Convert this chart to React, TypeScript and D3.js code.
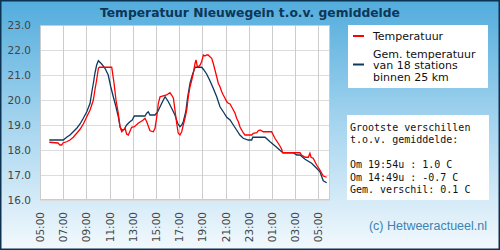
import * as React from "react";
import * as d3 from "d3";

// Temperatuur (rood) — tijden van 05:48 tot 05:43 de volgende ochtend
const tempTimes = [
  "05:48", "06:33", "06:43", "06:52", "07:00", "07:18", "07:35", "07:52", "08:10", "08:27",
  "08:44", "09:02", "09:19", "09:36", "09:44", "09:53", "10:02", "10:07", "11:11", "11:23",
  "11:33", "11:45", "11:54", "12:03", "12:20", "12:28", "12:37", "12:54", "13:08", "13:28",
  "13:54", "14:03", "14:12", "14:20", "14:29", "14:46", "14:55", "15:04", "15:12", "15:21",
  "15:55", "16:12", "16:21", "16:30", "16:38", "16:47", "16:55", "17:04", "17:13", "17:21",
  "17:30", "17:39", "17:47", "17:56", "18:05", "18:13", "18:22", "18:27", "18:34", "18:39",
  "18:48", "18:56", "19:05", "19:13", "19:22", "19:30", "19:39", "19:48", "19:56", "20:05",
  "20:14", "20:22", "20:31", "20:40", "20:48", "20:57", "21:06", "21:14", "21:23", "21:31",
  "21:40", "21:49", "21:57", "22:06", "22:14", "22:23", "22:31", "22:40", "23:15", "23:23",
  "23:41", "23:49", "23:58", "00:15", "00:58", "01:15", "01:32", "01:41", "01:50", "01:55",
  "03:25", "03:33", "03:51", "04:08", "04:16", "04:22", "04:33", "04:51", "05:08", "05:25",
  "05:43",
];
const tempValues = [
  18.31, 18.28, 18.2, 18.2, 18.29, 18.33, 18.4, 18.51, 18.67, 18.83,
  19.04, 19.33, 19.6, 20.0, 20.4, 20.8, 21.27, 21.31, 21.31, 20.67,
  20.0, 19.47, 18.93, 18.73, 18.87, 18.64, 18.6, 18.91, 18.93, 19.07,
  19.2, 19.27, 19.13, 18.96, 18.77, 18.73, 18.87, 19.33, 19.87, 20.13,
  20.2, 20.29, 20.2, 20.07, 19.6, 19.07, 18.67, 18.6, 18.73, 19.0,
  19.27, 19.6, 20.13, 20.53, 20.8, 21.07, 21.47, 21.6, 21.33, 21.33,
  21.4, 21.53, 21.8, 21.76, 21.8, 21.8, 21.73, 21.67, 21.47, 21.2,
  20.93, 20.67, 20.53, 20.33, 20.2, 20.07, 19.93, 19.87, 19.84, 19.73,
  19.6, 19.47, 19.27, 19.13, 18.93, 18.8, 18.69, 18.6, 18.6, 18.67,
  18.69, 18.77, 18.8, 18.73, 18.73, 18.47, 18.27, 18.16, 18.03, 17.89,
  17.89, 17.8, 17.71, 17.71, 17.87, 17.71, 17.67, 17.4, 17.2, 16.96,
  16.91,
];

// Gemiddelde van 18 stations (donkerblauw)
const avgTimes = [
  "05:48", "07:00", "07:18", "07:35", "07:52", "08:10", "08:27", "08:44", "09:02", "09:19",
  "09:27", "09:36", "09:44", "09:53", "10:02", "10:19", "10:36", "10:53", "11:06", "11:19",
  "11:33", "11:45", "11:54", "12:03", "12:16", "12:28", "12:45", "12:57", "13:08", "14:03",
  "14:12", "14:20", "14:29", "14:55", "15:09", "15:21", "15:38", "15:47", "16:04", "16:21",
  "16:38", "16:52", "17:04", "17:13", "17:21", "17:34", "17:44", "17:56", "18:08", "18:22",
  "18:56", "19:05", "19:22", "19:39", "19:56", "20:14", "20:31", "20:48", "21:06", "21:23",
  "21:40", "21:57", "22:14", "22:31", "22:57", "23:15", "23:20", "00:24", "00:50", "01:24",
  "01:50", "01:58", "02:50", "03:08", "03:25", "03:51", "04:25", "04:51", "05:08", "05:25",
  "05:43",
];
const avgValues = [
  18.4, 18.4, 18.51, 18.6, 18.73, 18.87, 19.04, 19.27, 19.53, 19.87,
  20.27, 20.67, 21.07, 21.4, 21.57, 21.44, 21.27, 21.0, 20.53, 20.13,
  19.73, 19.33, 18.93, 18.8, 18.83, 19.0, 19.13, 19.2, 19.36, 19.36,
  19.47, 19.53, 19.4, 19.4, 19.53, 19.73, 20.0, 20.13, 19.93, 19.67,
  19.4, 19.07, 18.93, 19.0, 19.13, 19.53, 20.13, 20.67, 21.0, 21.31,
  21.31, 21.23, 21.04, 20.77, 20.47, 20.13, 19.73, 19.53, 19.31, 19.2,
  19.0, 18.8, 18.6, 18.47, 18.4, 18.4, 18.51, 18.51, 18.33, 18.11,
  17.93, 17.89, 17.89, 17.8, 17.8, 17.63, 17.47, 17.27, 17.13, 16.77,
  16.69,
];

const yTicks = [16, 17, 18, 19, 20, 21, 22, 23];
const xTickLabels = [
  "05:00", "07:00", "09:00", "11:00", "13:00", "15:00", "17:00",
  "19:00", "21:00", "23:00", "01:00", "03:00", "05:00",
];

const legendItems = [
  { color: "#ff0000", lines: ["Temperatuur"] },
  { color: "#0b3a5e", lines: ["Gem. temperatuur", "van 18 stations", "binnen 25 km"] },
];
const infoLines = [
  "Grootste verschillen",
  "t.o.v. gemiddelde:",
  "",
  "Om 19:54u : 1.0 C",
  "Om 14:49u : -0.7 C",
  "Gem. verschil: 0.1 C",
];

const W = 500;
const H = 250;
const margin = { top: 25, right: 170, bottom: 50, left: 40 };

// tijden "HH:MM" omzetten naar uren sinds 05:00, met dagovergang
function toHours(times: string[]) {
  let prev = -1;
  let offset = 0;
  return times.map((t) => {
    const [h, m] = t.split(":").map(Number);
    let v = h + m / 60;
    if (v + offset < prev) offset += 24;
    v += offset;
    prev = v;
    return v - 5;
  });
}

const App: React.FC = () => {
  const x = d3.scaleLinear().domain([0, 25]).range([margin.left, W - margin.right]);
  const y = d3.scaleLinear().domain([16, 23]).range([H - margin.bottom, margin.top]);

  const tempH = toHours(tempTimes);
  const avgH = toHours(avgTimes);

  const line = d3
    .line<[number, number]>()
    .x((d) => x(d[0]))
    .y((d) => y(d[1]));

  const tempPath = line(tempH.map((h, i) => [h, tempValues[i]] as [number, number])) || undefined;
  const avgPath = line(avgH.map((h, i) => [h, avgValues[i]] as [number, number])) || undefined;

  const xTicks = xTickLabels.map((label, i) => ({ label, h: i * 2 }));
  const plotRight = W - margin.right;
  const plotBottom = H - margin.bottom;

  return (
    <svg width={W} height={H} style={{ position: "absolute", left: 0, top: 0 }}>
      <defs>
        <linearGradient id="bg" x1="0" y1="0" x2="0" y2="1">
          <stop offset="0%" stopColor="#52acdc" />
          <stop offset="50%" stopColor="#a6d5ef" />
          <stop offset="100%" stopColor="#f3f9fd" />
        </linearGradient>
      </defs>
      <rect x={0} y={0} width={W} height={H} fill="url(#bg)" />
      <rect x={0.75} y={0.75} width={W - 1.5} height={H - 1.5} fill="none" stroke="#0c3252" strokeWidth={1.5} />

      <text
        x={250}
        y={16.5}
        textAnchor="middle"
        fontFamily="DejaVu Sans, sans-serif"
        fontWeight="bold"
        fontSize={12.3}
        fill="#0d3658"
      >
        Temperatuur Nieuwegein t.o.v. gemiddelde
      </text>

      {/* plotgebied */}
      <rect x={margin.left} y={margin.top} width={plotRight - margin.left} height={plotBottom - margin.top} fill="#ffffff" />
      <g stroke="#dcdcdc" strokeWidth={1}>
        {yTicks.map((t) => (
          <line key={t} x1={margin.left} x2={plotRight} y1={y(t) + 0.5} y2={y(t) + 0.5} />
        ))}
      </g>
      <g stroke="#cccccc" strokeWidth={1}>
        {xTicks.map((t) => (
          <line key={t.h} x1={Math.round(x(t.h)) + 0.5} x2={Math.round(x(t.h)) + 0.5} y1={margin.top} y2={plotBottom} />
        ))}
      </g>
      <rect
        x={margin.left + 0.5}
        y={margin.top + 0.5}
        width={plotRight - margin.left - 1}
        height={plotBottom - margin.top - 1}
        fill="none"
        stroke="#cccccc"
      />

      <g fontFamily="DejaVu Sans, sans-serif" fontSize={10.5} fill="#444">
        {yTicks.map((t) => (
          <text key={t} x={31} y={y(t) + 4} textAnchor="end">
            {t.toFixed(1)}
          </text>
        ))}
        {xTicks.map((t, i) => (
          <text
            key={i}
            transform={`translate(${x(t.h) + 4},${plotBottom + 12}) rotate(-90)`}
            textAnchor="end"
          >
            {t.label}
          </text>
        ))}
      </g>

      <path d={avgPath} fill="none" stroke="#0b3a5e" strokeWidth={1.3} />
      <path d={tempPath} fill="none" stroke="#ff0000" strokeWidth={1.3} />

      {/* legenda */}
      <rect x={348} y={25} width={140} height={63} fill="#ffffff" />
      <g fontFamily="DejaVu Sans, sans-serif" fontSize={11} fill="#111">
        <line x1={353} x2={364} y1={36} y2={36} stroke={legendItems[0].color} strokeWidth={2} />
        <text x={373} y={40}>{legendItems[0].lines[0]}</text>
        <line x1={353} x2={364} y1={64.5} y2={64.5} stroke={legendItems[1].color} strokeWidth={2} />
        {legendItems[1].lines.map((l, i) => (
          <text key={i} x={373} y={57.5 + i * 11.5}>
            {l}
          </text>
        ))}
      </g>

      {/* verschillen */}
      <rect x={347} y={115} width={142} height={85} fill="#ffffff" />
      <g fontFamily="DejaVu Sans Mono, monospace" fontSize={10} fill="#111">
        {infoLines.map((l, i) => (
          <text key={i} x={350} y={130.5 + i * 12.5}>
            {l}
          </text>
        ))}
      </g>

      <text x={487} y={229.5} textAnchor="end" fontFamily="Liberation Sans, Arial, sans-serif" fontSize={12.5} fill="#3d82b2">
        (c) Hetweeractueel.nl
      </text>
    </svg>
  );
};

export default App;
